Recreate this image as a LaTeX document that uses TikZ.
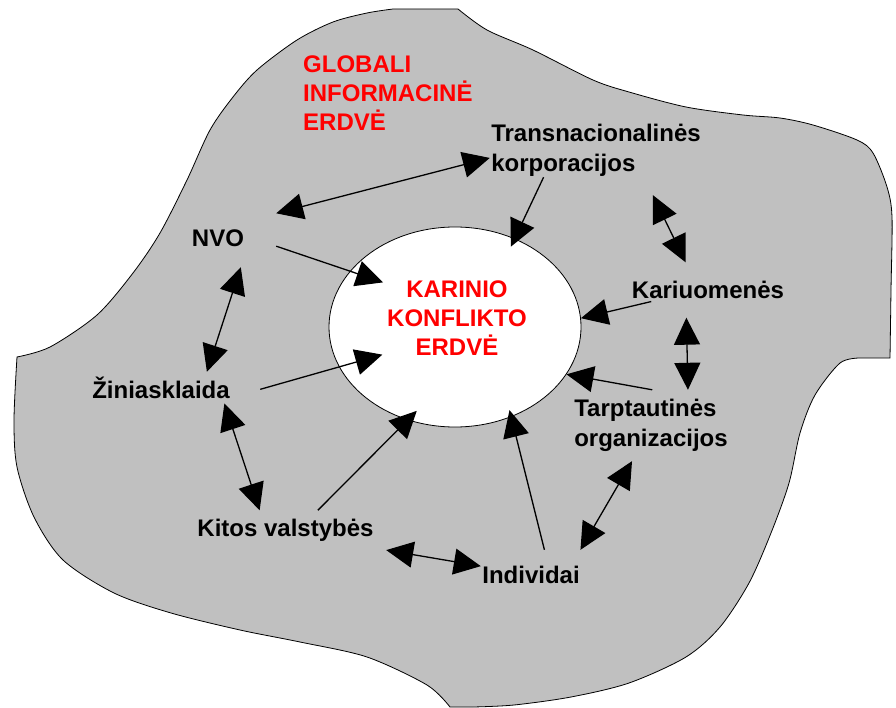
\documentclass[tikz,border=0pt]{standalone}
\usepackage{fontspec}
\setmainfont{Liberation Sans}
\usepackage{xcolor}
\usetikzlibrary{arrows.meta,shapes.geometric}
\definecolor{blobgray}{RGB}{192,192,192}

\begin{document}
\begin{tikzpicture}[x=1pt,y=-1pt,
	>={Triangle[length=27pt,width=26pt]},
	lbl/.style={font=\fontsize{24}{30}\selectfont\bfseries, inner sep=0pt, align=left},
	redlbl/.style={lbl, text=red, font=\fontsize{24}{29}\selectfont\bfseries},
	link/.style={line width=1.3pt}]
		\useasboundingbox (0,0) rectangle (896,708);
		
		% global space
		\filldraw[fill=blobgray, line width=0.8pt]
			(17,357) -- plot[smooth] coordinates {(17,357) (50,347) (97,315) (133,273) (160,233) (187,180) (210,130) (233,97) (257,70) (297,40) (333,22) (367,13) (393,9)}
			-- plot[smooth] coordinates {(458,9) (487,30) (533,50) (593,80) (629,92) (686,107) (743,115) (780,118) (813,125) (857,140) (873,153) (887,187) (892,217) (891,290) (890,358)}
			-- plot[smooth] coordinates {(860,358) (840,363) (815,395) (800,433) (789,483) (771,533) (749,583) (720,627) (686,657) (629,683) (571,697) (514,705) (473,707)}
			-- plot[smooth] coordinates {(450,707) (427,685) (367,657) (300,642) (240,630) (171,613) (114,593) (63,560) (34,517) (17,467) (14,420) (17,357)}
			-- cycle;
		
		\node[draw, ellipse, fill=white, line width=0.8pt, minimum width=252pt, minimum height=200pt, inner sep=0pt] (war) at (455,327) {};
		
		\node[redlbl, anchor=north west] (glob) at (303,55.5) {GLOBALI\\INFORMACINĖ\\ERDVĖ};
		\node[redlbl, align=center] (wartxt) at (457,318.5) {KARINIO\\KONFLIKTO\\ERDVĖ};
		
		\node[lbl, minimum width=116pt, minimum height=58pt] (nvo) at (218,238) {NVO};
		\node[lbl, minimum width=212pt, minimum height=53pt] (trans) at (596,150.5) {Transnacionalinės\\korporacijos};
		\node[lbl, minimum width=156pt, minimum height=55pt] (kar) at (708,290) {Kariuomenės};
		\node[lbl, minimum width=160pt, minimum height=71pt] (tarp) at (651,425.5) {Tarptautinės\\organizacijos};
		\node[lbl, minimum width=100pt, minimum height=50pt] (ind) at (531,575) {Individai};
		\node[lbl, minimum width=201pt, minimum height=40pt] (kit) at (285.5,530.5) {Kitos valstybės};
		\node[lbl, minimum width=198pt, minimum height=31.2pt] (zin) at (161,387.6) {Žiniasklaida};
		
		% ring of actors
		\draw[link,<->] (nvo.23.7) -- (trans.184);
		\draw[link,<->, shorten <=20pt] (trans.-29.4) -- (kar.129);
		\draw[link,<->] (kar.232.6) -- (tarp.44.6);
		\draw[link,<->] (ind.27) -- (tarp.242.1);
		\draw[link,<->] (kit.-11) -- (ind.170.2);
		\draw[link,<->] (zin.-14.7) -- (kit.142.9);
		\draw[link,<->] (nvo.-52.8) -- (zin.19.1);
		
		% into the conflict space
		\draw[link,->, shorten >=-9pt] (trans.207.5) -- (war.56.2);
		\draw[link,->, shorten >=-35pt] (nvo.-8.8) -- (war.152.4);
		\draw[link,->, shorten <=-22pt] (kar.192) -- (war.4.5);
		\draw[link,->] (tarp.88.4) -- (war.337);
		\draw[link,->, shorten >=-45pt] (zin.-1.4) -- (war.199.3);
		\draw[link,->, shorten >=-13pt] (kit.32) -- (war.243);
		\draw[link,->, shorten >=-7pt] (ind.62.5) -- (war.302);
		
	\end{tikzpicture}
\end{document}
